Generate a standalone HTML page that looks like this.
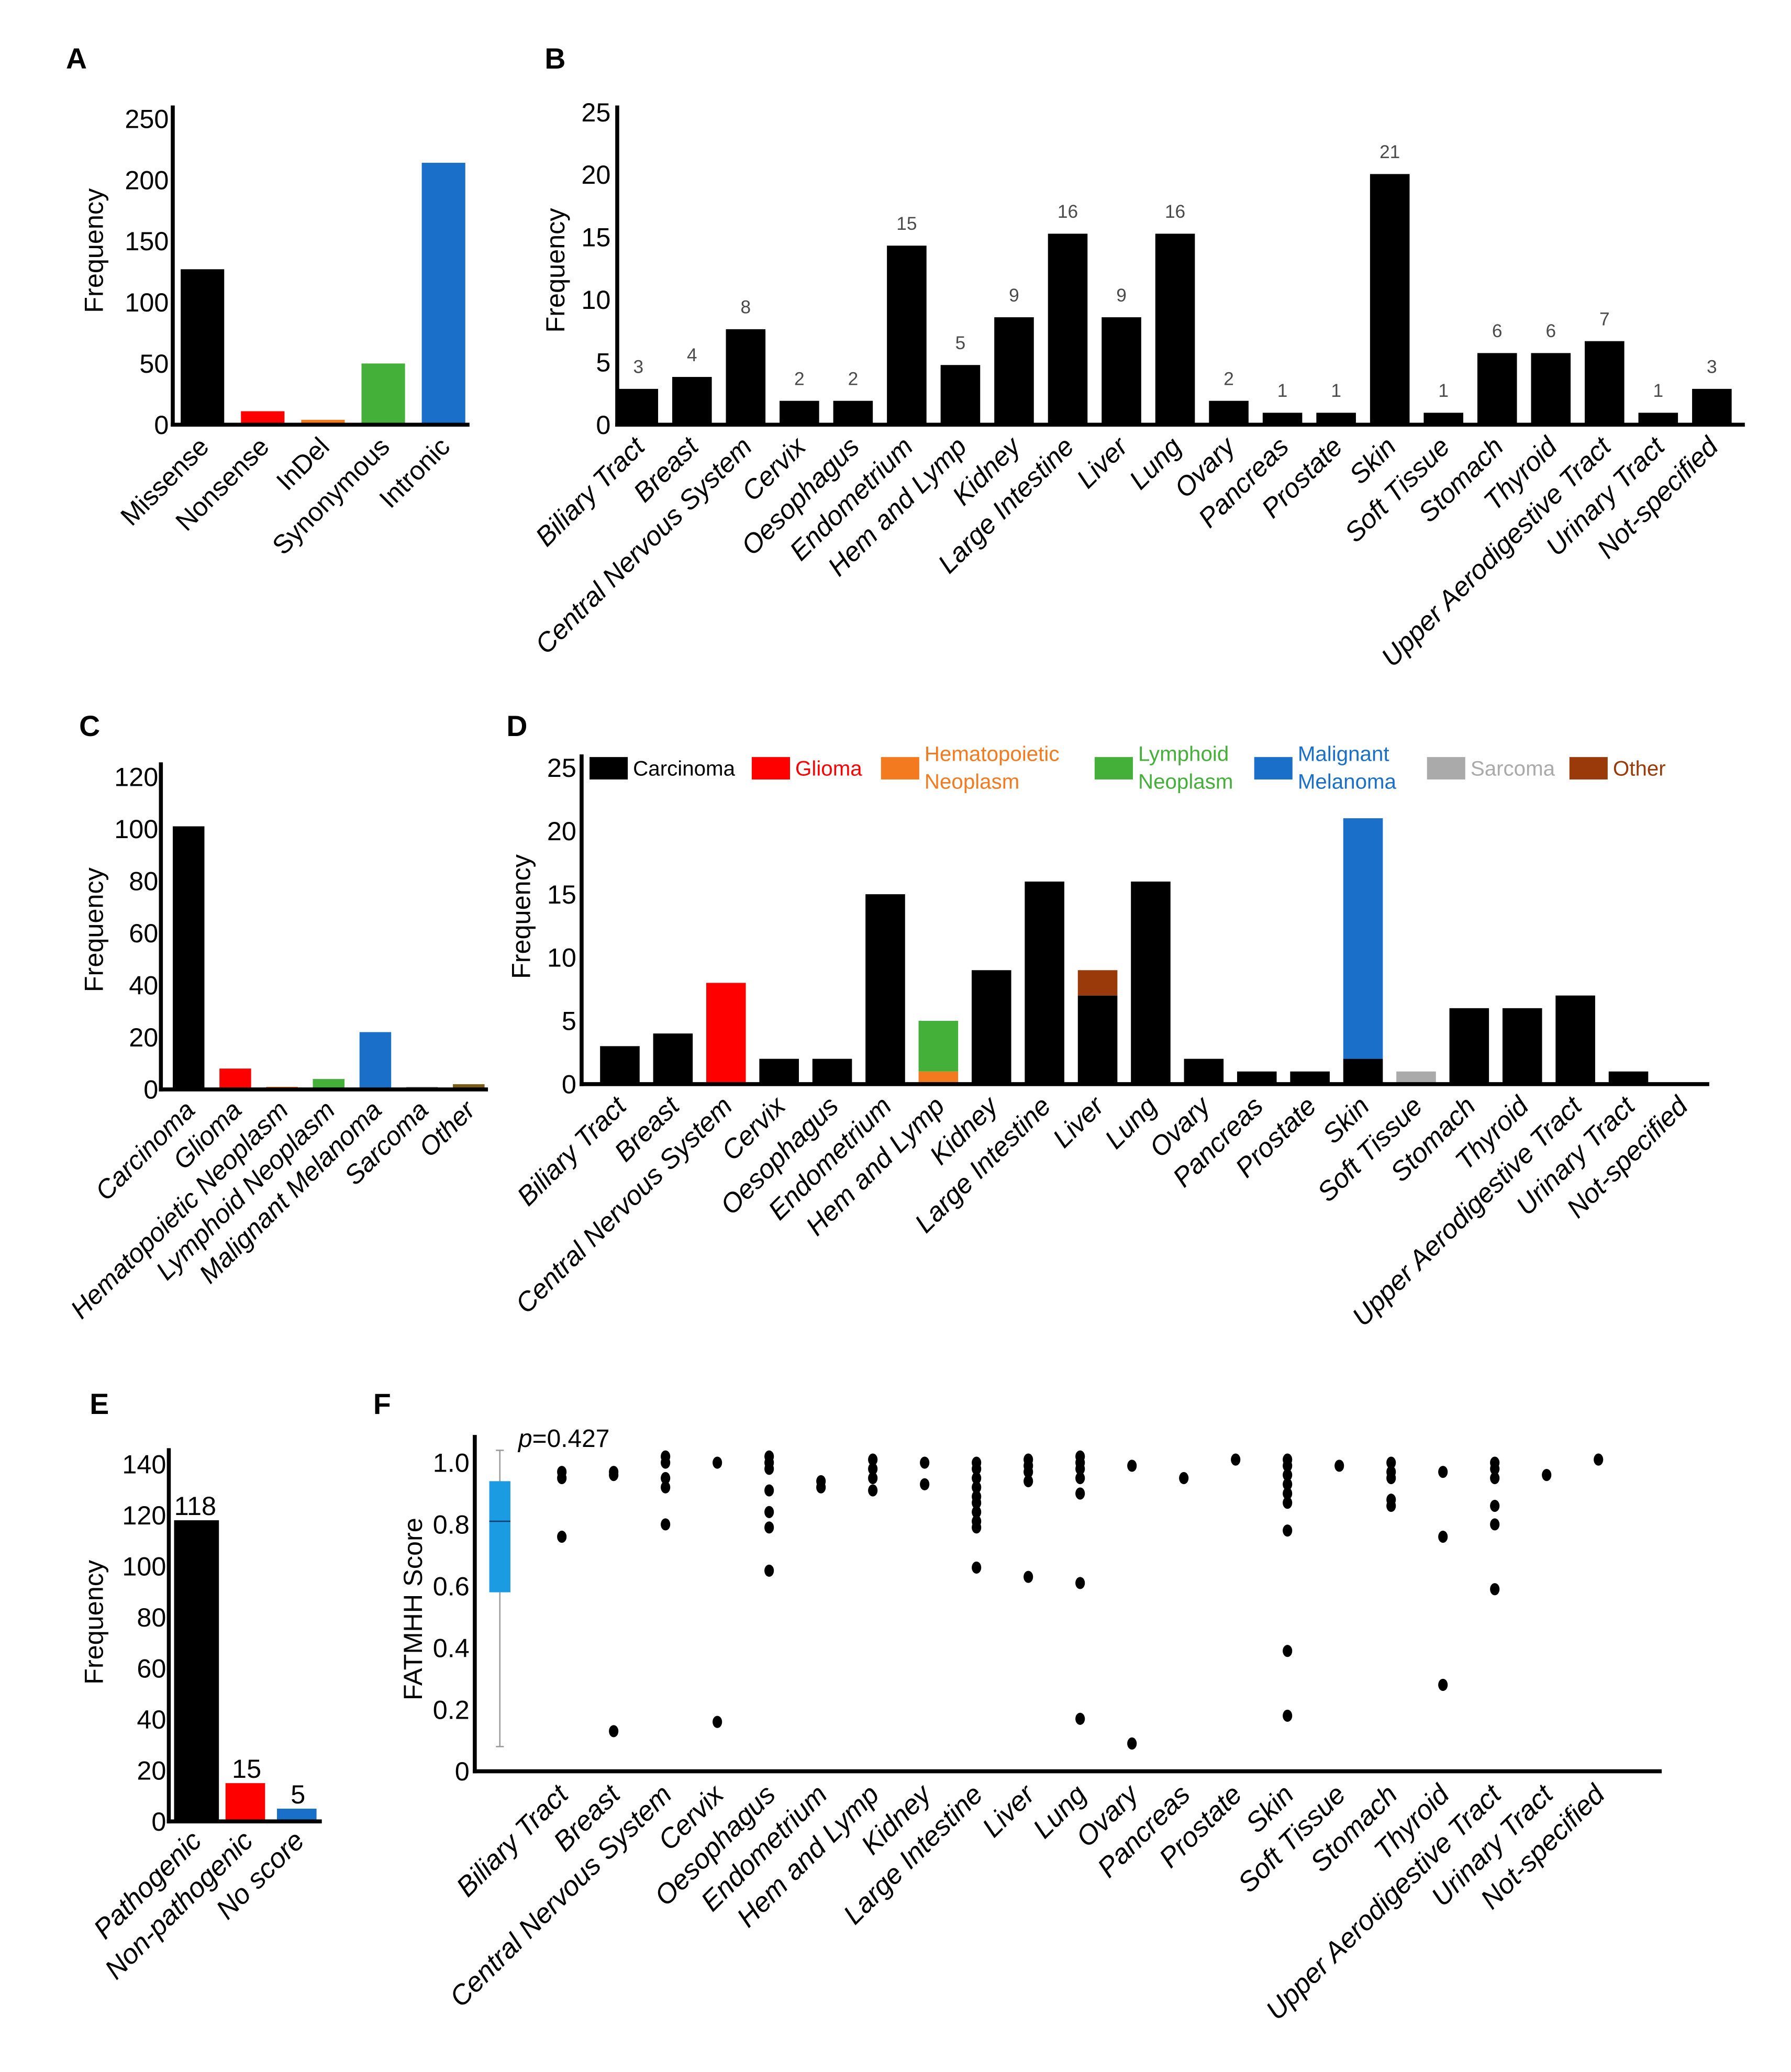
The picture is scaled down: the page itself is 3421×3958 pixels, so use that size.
<!DOCTYPE html>
<html><head><meta charset="utf-8"><style>
html,body{margin:0;padding:0;background:#fff;}
svg{display:block;font-family:"Liberation Sans",sans-serif;}
</style></head><body>
<svg id="chart" xmlns="http://www.w3.org/2000/svg" width="3421" height="3958" viewBox="0 0 1358 1571" preserveAspectRatio="none"></svg>
<script>
// ---- Panel A data
const aCats=['Missense','Nonsense','InDel','Synonymous','Intronic'];
const aVals=[127,11,4,50,214];
const aColors=['#000','#f00','#f47a20','#44b03a','#1a6fc9'];
const aTicks=[0,50,100,150,200,250];
// ---- Panel B data
const bCats=['Biliary Tract','Breast','Central Nervous System','Cervix','Oesophagus','Endometrium','Hem and Lymp','Kidney','Large Intestine','Liver','Lung','Ovary','Pancreas','Prostate','Skin','Soft Tissue','Stomach','Thyroid','Upper Aerodigestive Tract','Urinary Tract','Not-specified'];
const bVals=[3,4,8,2,2,15,5,9,16,9,16,2,1,1,21,1,6,6,7,1,3];
const bTicks=[0,5,10,15,20,25];
// ---- Panel C data
const cCats=['Carcinoma','Glioma','Hematopoietic Neoplasm','Lymphoid Neoplasm','Malignant Melanoma','Sarcoma','Other'];
const cVals=[101,8,1,4,22,1,2];
const cColors=['#000','#f00','#f47a20','#44b03a','#1a6fc9','#aaa','#7a5c12'];
const cTicks=[0,20,40,60,80,100,120];
// ---- Panel D data (stacked)
const dCats=bCats;
const dCarc=  [3,4,0,2,2,15,0,9,16,7,16,2,1,1,2,0,6,6,7,1,0];
const dGlioma=[0,0,8,0,0,0,0,0,0,0,0,0,0,0,0,0,0,0,0,0,0];
const dHema=  [0,0,0,0,0,0,1,0,0,0,0,0,0,0,0,0,0,0,0,0,0];
const dLymph= [0,0,0,0,0,0,4,0,0,0,0,0,0,0,0,0,0,0,0,0,0];
const dMel=   [0,0,0,0,0,0,0,0,0,0,0,0,0,0,19,0,0,0,0,0,0];
const dSarc=  [0,0,0,0,0,0,0,0,0,0,0,0,0,0,0,1,0,0,0,0,0];
const dOther= [0,0,0,0,0,0,0,0,0,2,0,0,0,0,0,0,0,0,0,0,0];
const dSeriesNames=['Carcinoma','Glioma','Hematopoietic Neoplasm','Lymphoid Neoplasm','Malignant Melanoma','Sarcoma','Other'];
const dColors=['#000','#f00','#f47a20','#44b03a','#1a6fc9','#aaa','#9a3a0a'];
const dTicks=[0,5,10,15,20,25];
// ---- Panel E data
const eCats=['Pathogenic','Non-pathogenic','No score'];
const eVals=[118,15,5];
const eTicks=[0,20,40,60,80,100,120,140];
// ---- Panel F data
const fCats=bCats;
const fPoints=[
 [0.97,0.95,0.76],
 [0.97,0.96,0.13],
 [1.02,1.0,0.95,0.92,0.80],
 [1.0,0.16],
 [1.02,1.0,0.98,0.91,0.84,0.79,0.65],
 [0.94,0.92],
 [1.01,0.98,0.95,0.91],
 [1.0,0.93],
 [1.0,0.98,0.95,0.92,0.89,0.87,0.84,0.81,0.79,0.66],
 [1.01,0.99,0.97,0.94,0.63],
 [1.02,1.0,0.98,0.95,0.90,0.61,0.17],
 [0.99,0.09],
 [0.95],
 [1.01],
 [1.01,0.99,0.96,0.93,0.90,0.87,0.78,0.39,0.18],
 [0.99],
 [1.0,0.97,0.95,0.88,0.86],
 [0.97,0.76,0.28],
 [1.0,0.98,0.95,0.86,0.80,0.59],
 [0.96],
 [1.01]];
const fBox=[0.08,0.58,0.81,0.94,1.04];
const fTicks=[0,0.2,0.4,0.6,0.8,1.0];
const fTickLabels=['0','0.2','0.4','0.6','0.8','1.0'];

const NS='http://www.w3.org/2000/svg';
const svg=document.getElementById('chart');
function el(tag,attrs,text){const e=document.createElementNS(NS,tag);for(const k in attrs)e.setAttribute(k,attrs[k]);if(text!=null)e.textContent=text;svg.appendChild(e);return e;}
function lbl(x,y,t){const e=el('text',{x:x,y:y,'font-size':22,'font-weight':'bold'},t);

}
function axes(x0,yTop,y0,xRight,name){
 const a=el('line',{x1:x0,y1:yTop,x2:x0,y2:y0+1.5,stroke:'#000','stroke-width':3});
 
 
 const b=el('line',{x1:x0-1.5,y1:y0,x2:xRight,y2:y0,stroke:'#000','stroke-width':3});
 
 }
function ytitle(x,y,t,name){const e=el('text',{x:x,y:y,'font-size':20,'text-anchor':'middle',transform:'rotate(-90 '+x+' '+y+')'},t);

}
function ticks(arr,labels,yfn,x,fs,name){arr.forEach((t,i)=>{const e=el('text',{x:x,y:yfn(t)+fs*0.35,'font-size':fs,'text-anchor':'end'},labels?labels[i]:String(t));

});}
function xlabels(cats,xfn,y,fs,italic,name){cats.forEach((c,i)=>{const x=xfn(i)+6;const e=el('text',{x:x,y:y,'font-size':fs,'text-anchor':'end','font-style':italic?'italic':'normal',transform:'rotate(-45 '+x+' '+y+')'},c);

});}

// ===== Panel A
lbl(50,52,'A');
const xA=i=>153.5+i*45.7, yA=v=>322-v*0.928;
aVals.forEach((v,i)=>{const r=el('rect',{x:xA(i)-16.5,y:yA(v),width:33,height:322-yA(v),fill:aColors[i]});

});
axes(131,80,322,356,'a');
ticks(aTicks,null,yA,128,20,'a');
ytitle(78,190,'Frequency','a');
xlabels(aCats,xA,340,20,false,'a');

// ===== Panel B
lbl(413,52,'B');
const xB=i=>484+i*40.7, yB=v=>322-v*9.05, yBt=t=>322-t*9.48;
bVals.forEach((v,i)=>{const r=el('rect',{x:xB(i)-15,y:yB(v),width:30,height:322-yB(v),fill:'#000'});


const t=el('text',{x:xB(i),y:yB(v)-12,'font-size':14,'text-anchor':'middle',fill:'#4a4a4a'},String(v));

});
axes(468,80,322,1323,'b');
ticks(bTicks,null,yBt,463,20,'b');
ytitle(428,205,'Frequency','b');
xlabels(bCats,xB,340,20.5,true,'b');

// ===== Panel C
lbl(60,558,'C');
const xC=i=>143+i*35.4, yC=v=>826-v*1.975;
cVals.forEach((v,i)=>{const r=el('rect',{x:xC(i)-12,y:yC(v),width:24,height:826-yC(v),fill:cColors[i]});

});
axes(122,578,826,370,'c');
ticks(cTicks,null,yC,120,20,'c');
ytitle(78,705,'Frequency','c');
xlabels(cCats,xC,843,20,true,'c');

// ===== Panel D
lbl(384,558,'D');
const xD=i=>470+i*40.25, yD=v=>822-v*9.6;
const dSeries=[dCarc,dGlioma,dHema,dLymph,dMel,dSarc,dOther];
dCats.forEach((c,i)=>{let base=0;dSeries.forEach((s,k)=>{const v=s[i];if(v<=0)return;
const r=el('rect',{x:xD(i)-15,y:yD(base+v),width:30,height:yD(base)-yD(base+v),fill:dColors[k]});


base+=v;});});
axes(441,572,822,1296,'d');
ticks(dTicks,null,yD,437,20,'d');
ytitle(402,695,'Frequency','d');
xlabels(dCats,xD,840,20.5,true,'d');
// legend
const legX=[447,570,668,830,951,1082,1190];
const legLines=[['Carcinoma'],['Glioma'],['Hematopoietic','Neoplasm'],['Lymphoid','Neoplasm'],['Malignant','Melanoma'],['Sarcoma'],['Other']];
legLines.forEach((ls,k)=>{const r=el('rect',{x:legX[k],y:574,width:29,height:17,fill:dColors[k]});


ls.forEach((t,j)=>{const y=ls.length===1?588:577+j*21;
const tx=el('text',{x:legX[k]+33,y:y,'font-size':16,fill:dColors[k]},t);

});});

// ===== Panel E
lbl(68,1072,'E');
const xE=i=>148+i*39, yE=v=>1381-v*1.935;
const eColors=['#000','#f00','#1a6fc9'];
eVals.forEach((v,i)=>{const r=el('rect',{x:xE(i)-16,y:yE(v),width:i===0?34:30,height:1381-yE(v),fill:eColors[i]});


const t=el('text',{x:xE(i),y:yE(v)-4,'font-size':20,'text-anchor':'middle'},String(v));

});
axes(128,1098,1381,244,'e');
ticks(eTicks,null,yE,126,20,'e');
ytitle(78,1230,'Frequency','e');
xlabels(eCats,xE,1397,21,true,'e');

// ===== Panel F
lbl(283,1072,'F');
const xF=i=>426+i*39.3, yF=v=>1343-v*234;
const wh=el('line',{x1:379,y1:yF(fBox[0]),x2:379,y2:yF(fBox[4]),stroke:'#999','stroke-width':1});


[fBox[0],fBox[4]].forEach(v=>{const c=el('line',{x1:376,y1:yF(v),x2:382,y2:yF(v),stroke:'#999','stroke-width':1});

});
const bx=el('rect',{x:371,y:yF(fBox[3]),width:16,height:yF(fBox[1])-yF(fBox[3]),fill:'#1a9be2'});


const md=el('line',{x1:371,y1:yF(fBox[2]),x2:387,y2:yF(fBox[2]),stroke:'#0a3a6a','stroke-width':1});


fPoints.forEach((pts,i)=>{pts.forEach(v=>{const c=el('ellipse',{cx:xF(i),cy:yF(v),rx:3.6,ry:4.6,fill:'#000'});

});});
axes(360,1088,1343,1260,'f');
ticks(fTicks,fTickLabels,yF,356,20,'f');
ytitle(320,1220,'FATMHH Score','f');
xlabels(fCats,xF,1362,21,true,'f');
const pv=el('text',{x:393,y:1097,'font-size':19});


const ps=document.createElementNS(NS,'tspan');ps.setAttribute('font-style','italic');ps.textContent='p';pv.appendChild(ps);
const ps2=document.createElementNS(NS,'tspan');ps2.textContent='=0.427';pv.appendChild(ps2);
</script>
</body></html>
